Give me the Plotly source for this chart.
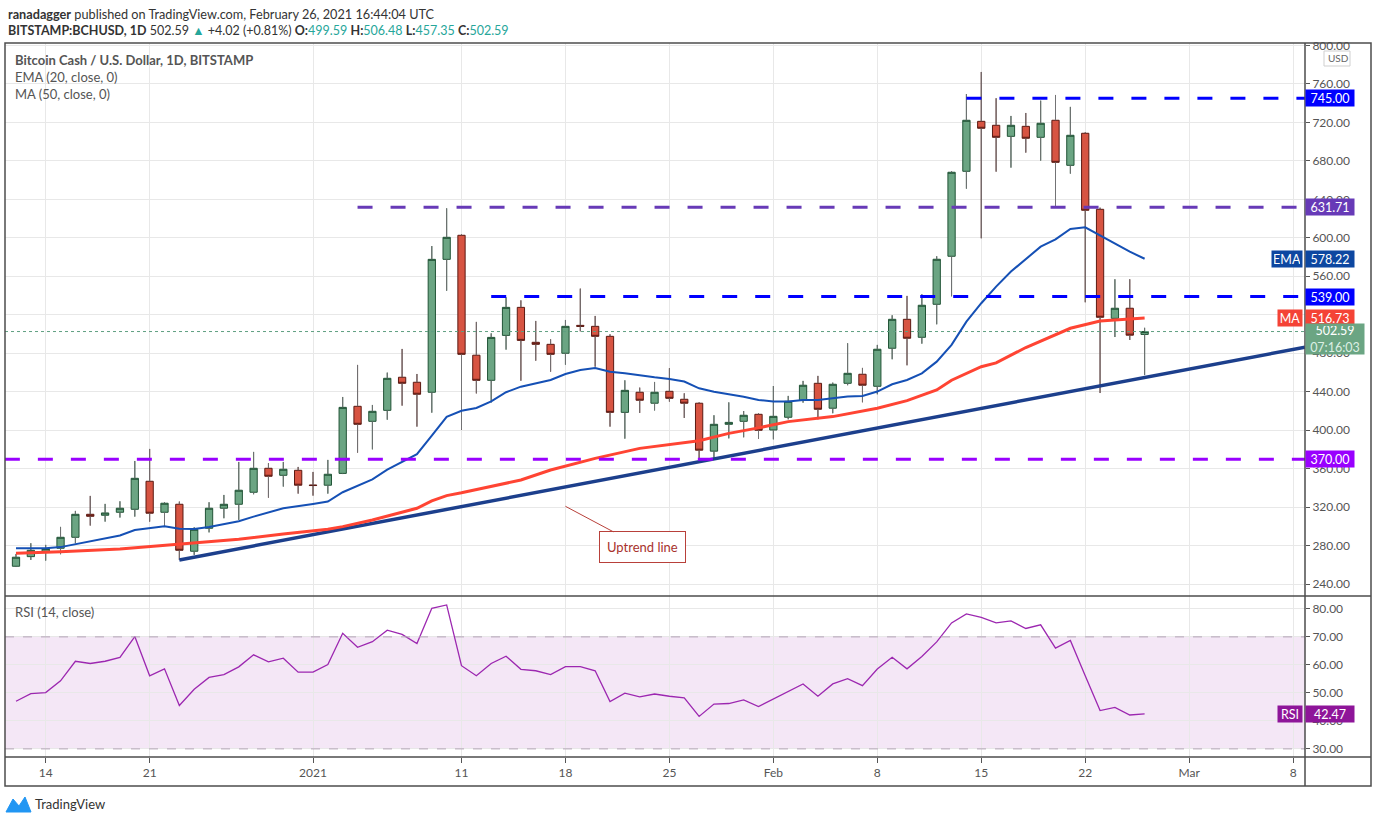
import pandas as pd
import plotly.graph_objects as go

# daily candles, BITSTAMP:BCHUSD, 12 Dec 2020 -> 26 Feb 2021
dates = pd.date_range("2020-12-12", periods=77, freq="D")

opens = [258.7, 268.7, 274.3, 277.4, 288.8, 312.7, 311.7, 314.8, 317.9, 347.0,
         314.8, 323.1, 274.3, 298.2, 319.0, 323.1, 335.6, 360.5, 353.2, 358.4,
         343.2, 342.9, 355.2, 424.9, 409.3, 420.7, 455.1, 449.9, 439.5, 577.6,
         602.6, 478.0, 451.9, 498.6, 527.7, 491.4, 489.3, 480.0, 509.0, 508.0,
         497.6, 418.6, 439.5, 428.1, 440.5, 432.2, 428.1, 378.3, 406.2, 409.3,
         416.6, 400.3, 413.5, 431.2, 448.8, 422.9, 448.8, 458.2, 445.7, 485.2,
         515.3, 496.6, 530.9, 580.8, 669.1, 721.0, 716.9, 705.4, 715.8, 704.4,
         722.1, 675.3, 708.6, 629.6, 516.3, 526.8, 499.59]
highs = [271.5, 282.6, 280.9, 299.6, 316.2, 331.8, 323.5, 326.2, 368.1, 380.6,
         325.2, 325.9, 299.2, 325.2, 332.8, 367.1, 377.5, 365.7, 367.1, 361.9,
         356.7, 369.2, 434.6, 467.9, 426.3, 459.9, 484.5, 458.5, 591.4, 630.6,
         603.5, 512.6, 500.7, 538.1, 535.0, 513.6, 494.5, 514.6, 547.2, 518.8,
         499.7, 451.9, 444.3, 450.2, 464.5, 438.4, 429.0, 415.6, 429.0, 420.0,
         417.5, 446.0, 435.7, 451.3, 456.5, 449.5, 490.4, 464.8, 488.7, 519.5,
         539.6, 541.3, 580.8, 669.4, 749.4, 772.3, 745.0, 726.6, 729.7, 742.5,
         748.4, 736.0, 709.6, 631.3, 556.9, 556.9, 506.48]
lows = [257.9, 265.3, 264.6, 271.2, 282.6, 301.0, 305.1, 309.3, 310.3, 305.1,
        299.9, 265.3, 270.5, 293.9, 308.6, 306.9, 333.5, 330.0, 341.5, 334.2,
        332.1, 334.2, 354.5, 376.8, 380.2, 411.0, 425.6, 403.8, 418.3, 545.0,
        400.4, 438.3, 428.9, 483.8, 451.5, 472.3, 460.9, 468.2, 502.8, 466.1,
        403.8, 391.3, 418.0, 420.6, 429.8, 412.8, 370.0, 370.9, 391.6, 392.7,
        391.3, 390.6, 411.4, 428.7, 411.4, 417.7, 446.8, 429.1, 437.4, 473.8,
        467.5, 490.0, 510.1, 539.2, 651.1, 599.5, 668.7, 672.9, 688.5, 680.2,
        631.3, 666.7, 533.0, 438.7, 496.9, 493.8, 457.35]
closes = [268.1, 275.3, 277.1, 288.8, 312.7, 310.6, 314.1, 319.0, 350.1, 313.8,
          324.2, 275.3, 297.1, 319.0, 323.1, 337.7, 360.5, 352.2, 359.5, 342.9,
          342.6, 354.3, 423.8, 406.2, 419.7, 454.0, 448.8, 437.4, 577.6, 600.5,
          478.9, 451.9, 496.5, 527.7, 493.4, 489.3, 478.9, 508.0, 508.0, 497.6,
          418.6, 441.5, 431.2, 439.5, 433.2, 428.1, 379.3, 406.2, 408.2, 415.6,
          400.0, 414.5, 430.1, 446.8, 421.8, 447.8, 459.2, 446.8, 484.2, 515.3,
          495.6, 529.9, 577.7, 668.1, 722.1, 713.8, 704.4, 716.9, 703.4, 719.0,
          678.4, 706.5, 628.6, 517.4, 526.8, 498.8, 502.59]

# EMA 20 and MA 50 (candle index -> value)
ema_idx = [0, 2, 3, 7, 8, 9, 10, 11, 12, 13, 15, 16, 18, 20, 21, 22, 24, 25, 27,
           28, 29, 30, 31, 32, 33, 34, 35, 36, 37, 38, 39, 40, 41, 42, 43, 44, 45,
           46, 47, 48, 49, 50, 51, 52, 53, 54, 55, 56, 57, 58, 59, 60, 61, 62, 63,
           64, 65, 66, 67, 68, 69, 70, 71, 72, 73, 74, 75, 76]
ema_vals = [277.4, 277.4, 278.6, 290.6, 296.4, 298.2, 300.3, 297.8, 297.5, 299.5,
            305.5, 310.3, 319.0, 323.5, 325.9, 335.6, 349.0, 359.0, 375.2, 394.4,
            414.0, 420.2, 423.2, 430.1, 439.5, 445.3, 448.8, 452.3, 458.5, 462.6,
            464.7, 460.9, 459.2, 456.8, 455.0, 453.3, 450.6, 443.6, 440.1, 437.4,
            434.9, 431.5, 429.8, 429.8, 431.5, 431.5, 433.2, 435.0, 435.7, 440.2,
            447.8, 452.3, 459.2, 471.3, 488.7, 512.9, 532.0, 549.3, 564.9, 577.7,
            590.8, 598.4, 609.2, 610.9, 602.2, 594.3, 585.6, 578.22]
ma_idx = [0, 2, 3, 7, 9, 11, 13, 15, 18, 21, 22, 24, 27, 28, 29, 30, 34, 36, 39,
          42, 46, 48, 50, 52, 55, 58, 60, 62, 63, 65, 66, 68, 71, 72, 73, 75, 76]
ma_vals = [272.2, 272.9, 273.9, 276.7, 279.1, 281.6, 284.3, 286.8, 292.3, 297.1,
           299.9, 306.8, 319.0, 326.6, 332.1, 335.0, 348.3, 358.7, 370.8, 381.2,
           389.2, 396.8, 402.5, 409.0, 414.2, 422.9, 430.8, 441.9, 452.0, 466.0,
           470.0, 486.0, 506.0, 510.1, 513.6, 515.7, 516.73]

rsi_vals = [47.0, 49.7, 50.1, 54.3, 61.3, 60.5, 61.3, 62.7, 70.1, 56.1,
            58.6, 45.5, 51.3, 55.5, 56.5, 59.3, 63.6, 61.1, 62.4, 57.4,
            57.4, 60.1, 71.3, 66.3, 68.3, 72.4, 70.9, 67.6, 80.2, 81.4,
            59.7, 56.1, 60.5, 63.1, 58.4, 57.9, 56.5, 59.4, 59.4, 57.9,
            46.9, 49.9, 48.6, 49.6, 48.8, 48.2, 41.6, 46.0, 46.2, 47.5,
            45.1, 47.8, 50.7, 53.2, 48.8, 53.2, 55.1, 52.6, 58.5, 62.7,
            58.6, 63.0, 68.2, 75.0, 78.2, 77.0, 75.0, 75.7, 73.0, 74.3,
            66.0, 68.7, 56.1, 43.7, 44.8, 42.1, 42.47]

# drawn horizontal levels and the uptrend line
levels = [745.00, 631.71, 539.00, 370.00]
level_starts = ["2021-02-14", "2021-01-04", "2021-01-13", "2020-12-11 06:00"]
trend_dates = ["2020-12-23", "2021-03-08 19:12"]
trend_vals = [265.3, 486.3]

tick_dates = ["2020-12-14", "2020-12-21", "2021-01-01", "2021-01-11", "2021-01-18",
              "2021-01-25", "2021-02-01", "2021-02-08", "2021-02-15", "2021-02-22",
              "2021-03-01", "2021-03-08"]
tick_text = ["14", "21", "2021", "11", "18", "25", "Feb", "8", "15", "22", "Mar", "8"]

X_RANGE = ["2020-12-11 06:14", "2021-03-08 19:12"]
FONT = "Lato"
GRID = "#e8e8e8"


# pixel helpers for the page furniture (plot area: x 5..1305, y 43..757)
def px(x):
    return (x - 5) / 1300


def py(y):
    return (757 - y) / 714


fig = go.Figure()

fig.add_trace(go.Candlestick(
    x=dates, open=opens, high=highs, low=lows, close=closes,
    increasing=dict(line=dict(color="#225437", width=1), fillcolor="#6ba583"),
    decreasing=dict(line=dict(color="#5b1a13", width=1), fillcolor="#d75442"),
    whiskerwidth=0, showlegend=False, hoverinfo="skip"))

# grey wicks on top of the bodies' borders
wx, wy = [], []
for d, o, h, l, c in zip(dates, opens, highs, lows, closes):
    wx += [d, d, None, d, d, None]
    wy += [h, max(o, c), None, min(o, c), l, None]
fig.add_trace(go.Scatter(x=wx, y=wy, mode="lines", line=dict(color="#737375", width=1),
                         hoverinfo="skip", showlegend=False))

# last price dotted line
fig.add_trace(go.Scatter(x=X_RANGE, y=[closes[-1]] * 2, mode="lines",
                         line=dict(color="#5f9f82", width=1, dash="dot"),
                         hoverinfo="skip", showlegend=False))

fig.add_trace(go.Scatter(x=trend_dates, y=trend_vals, mode="lines",
                         line=dict(color="#1c3f8c", width=3.5),
                         hoverinfo="skip", showlegend=False))

fig.add_trace(go.Scatter(x=dates[ma_idx], y=ma_vals, mode="lines",
                         line=dict(color="#ff4433", width=3),
                         hoverinfo="skip", showlegend=False))
fig.add_trace(go.Scatter(x=dates[ema_idx], y=ema_vals, mode="lines",
                         line=dict(color="#1550b5", width=2),
                         hoverinfo="skip", showlegend=False))

level_colors = ["#0000ff", "#673ab7", "#0000ff", "#9900ff"]
for lv, st, col in zip(levels, level_starts, level_colors):
    fig.add_trace(go.Scatter(x=[st, X_RANGE[1]], y=[lv, lv], mode="lines",
                             line=dict(color=col, width=3, dash="15px,18px"),
                             hoverinfo="skip", showlegend=False))

fig.add_trace(go.Scatter(x=dates, y=rsi_vals, mode="lines", xaxis="x2", yaxis="y2",
                         line=dict(color="#9c27b0", width=1.3),
                         hoverinfo="skip", showlegend=False))

axis_font = dict(family=FONT, size=12, color="#555555")
fig.update_layout(
    width=1376, height=823,
    margin=dict(l=5, r=71, t=43, b=66),
    paper_bgcolor="white", plot_bgcolor="white",
    font=dict(family=FONT),
    xaxis=dict(domain=[0, 1], anchor="y", range=X_RANGE, tickvals=tick_dates,
               showticklabels=False, showgrid=True, gridcolor=GRID,
               rangeslider=dict(visible=False), zeroline=False),
    yaxis=dict(domain=[py(596), 1], side="right", range=[227.8, 802.4],
               tickvals=list(range(240, 801, 40)),
               ticktext=["%.2f" % v for v in range(240, 801, 40)],
               showgrid=True, gridcolor=GRID, ticks="outside", ticklen=4,
               tickcolor="#555555", tickfont=axis_font, zeroline=False),
    xaxis2=dict(domain=[0, 1], anchor="y2", matches="x", range=X_RANGE,
                tickvals=tick_dates, ticktext=tick_text, showgrid=True,
                gridcolor=GRID, ticks="outside", ticklen=5, tickcolor="#555555",
                tickfont=axis_font, zeroline=False),
    yaxis2=dict(domain=[0, py(596)], side="right", range=[27.1, 84.6],
                tickvals=[30, 40, 50, 60, 70, 80],
                ticktext=["30.00", "40.00", "50.00", "60.00", "70.00", "80.00"],
                showgrid=True, gridcolor=GRID, ticks="outside", ticklen=4,
                tickcolor="#555555", tickfont=axis_font, zeroline=False),
)

shapes = [
    # RSI band and its dashed bounds
    dict(type="rect", xref="x2 domain", yref="y2", x0=0, x1=1, y0=30, y1=70,
         fillcolor="rgba(156,39,176,0.11)", line=dict(width=0), layer="below"),
    dict(type="line", xref="x2 domain", yref="y2", x0=0, x1=1, y0=70, y1=70,
         line=dict(color="#b6a6b8", width=1, dash="dash")),
    dict(type="line", xref="x2 domain", yref="y2", x0=0, x1=1, y0=30, y1=30,
         line=dict(color="#b6a6b8", width=1, dash="dash")),
    # frame
    dict(type="rect", xref="paper", yref="paper", x0=px(5), x1=px(1371), y0=py(786),
         y1=py(43), line=dict(color="#4d4d4d", width=1.5)),
    dict(type="line", xref="paper", yref="paper", x0=px(5), x1=px(1371), y0=py(596),
         y1=py(596), line=dict(color="#4d4d4d", width=1.5)),
    dict(type="line", xref="paper", yref="paper", x0=px(5), x1=px(1371), y0=py(757),
         y1=py(757), line=dict(color="#4d4d4d", width=1.5)),
    dict(type="line", xref="paper", yref="paper", x0=px(1305), x1=px(1305), y0=py(786),
         y1=py(43), line=dict(color="#4d4d4d", width=1.5)),
    # USD tag
    dict(type="rect", xref="paper", yref="paper", x0=px(1324), x1=px(1350), y0=py(66),
         y1=py(51), line=dict(color="#cfcfcf", width=1), fillcolor="white"),
    # TradingView mark
    dict(type="path", xref="paper", yref="paper", fillcolor="#2196f3",
         line=dict(color="#2196f3", width=1),
         path="M %f,%f L %f,%f L %f,%f L %f,%f L %f,%f L %f,%f Z" % (
             px(6), py(812), px(13), py(799), px(19), py(806), px(25), py(797),
             px(31), py(812), px(6), py(812))),
]
fig.update_layout(shapes=shapes)

ann = []


def text(x, y, s, size=13, color="#4a4a4a", **kw):
    ann.append(dict(xref="paper", yref="paper", x=px(x), y=py(y), text=s,
                    showarrow=False, xanchor="left", yanchor="middle",
                    font=dict(family=FONT, size=size, color=color), **kw))


teal = "#26a69a"
text(6, 14, "<b>ranadagger</b> published on TradingView.com, February 26, 2021 16:44:04 UTC",
     size=12.7, color="#333333")
text(6, 30, "<b>BITSTAMP:BCHUSD, 1D</b> 502.59 <span style='color:%s'>▲</span> +4.02 (+0.81%%) "
     "<b>O:</b><span style='color:%s'>499.59</span> <b>H:</b><span style='color:%s'>506.48</span> "
     "<b>L:</b><span style='color:%s'>457.35</span> <b>C:</b><span style='color:%s'>502.59</span>"
     % (teal, teal, teal, teal, teal), size=12.5, color="#333333")
text(13, 60, "<b>Bitcoin Cash / U.S. Dollar, 1D, BITSTAMP</b>", size=13, color="#555555")
text(13, 77, "EMA (20, close, 0)", size=13, color="#555555")
text(13, 94, "MA (50, close, 0)", size=13, color="#555555")
text(13, 612, "RSI (14, close)", size=13, color="#555555")
text(1326, 58, "USD", size=10, color="#666666")
text(33, 804, "TradingView", size=13, color="#333333")


def tag(y, s, bg, yref="y", w=44, h=12, **kw):
    a = dict(xref="paper", yref=yref, x=px(1305), y=y, text=s, showarrow=False,
             xanchor="left", yanchor="middle", bgcolor=bg, borderpad=2, width=w,
             height=h, align="center", font=dict(family=FONT, size=12.5, color="white"))
    a.update(kw)
    ann.append(a)


def side(y, s, bg, w, yref="y"):
    ann.append(dict(xref="paper", yref=yref, x=px(1303), y=y, text=s, showarrow=False,
                    xanchor="right", yanchor="middle", bgcolor=bg, borderpad=2,
                    width=w, height=12, font=dict(family=FONT, size=12.5, color="white")))


tag(levels[0], "745.00", "#0000ff")
tag(levels[1], "631.71", "#673ab7")
tag(ema_vals[-1], "578.22", "#0d47a1")
side(ema_vals[-1], "EMA", "#0d47a1", 26)
tag(levels[2], "539.00", "#0000ff")
tag(ma_vals[-1], "516.73", "#f44336")
side(ma_vals[-1], "MA", "#f44336", 20)
tag(closes[-1], "502.59<br><span style='color:#dcefe4'>07:16:03</span>", "#6ba583",
    w=54, h=26, yanchor="top", yshift=9)
tag(levels[3], "370.00", "#9900ff")
tag(rsi_vals[-1], "42.47", "#8e1599", yref="y2")
side(rsi_vals[-1], "RSI", "#8e1599", 20, yref="y2")

# callout for the trend line
ann.append(dict(xref="x", yref="y", x="2021-01-18", y=321, text="Uptrend line",
                showarrow=True, arrowhead=0, arrowwidth=1, arrowcolor="#b8403a",
                ax=77, ay=41, bgcolor="white", bordercolor="#b8403a", borderwidth=1,
                borderpad=7, font=dict(family=FONT, size=13, color="#a8322d")))

fig.update_layout(annotations=ann)

# the page's default 8px body margin would push the figure off the window
fig.write_html("out.html", config={"displayModeBar": False},
               post_script="document.body.style.margin='0px';")
